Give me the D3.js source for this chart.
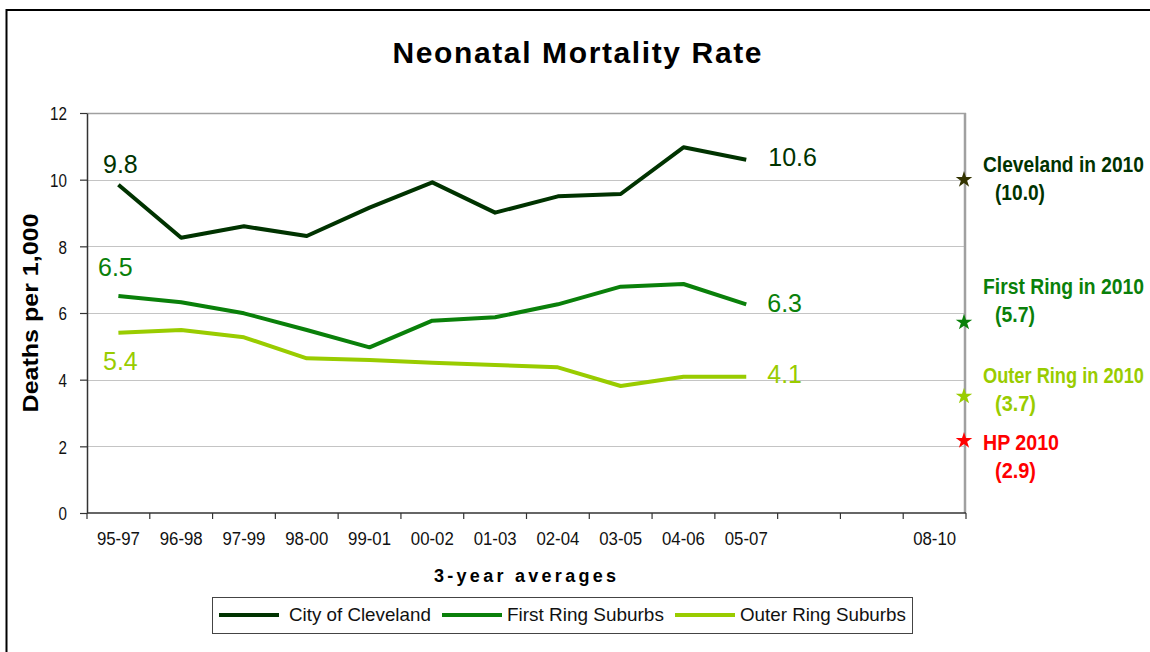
<!DOCTYPE html>
<html>
<head>
<meta charset="utf-8">
<script src="https://cdnjs.cloudflare.com/ajax/libs/d3/7.8.5/d3.min.js"></script>
<style>
  body { margin: 0; background: #fff; }
  svg { display: block; font-family: "Liberation Sans", Arial, sans-serif; }
</style>
</head>
<body>
<svg id="chart" width="1150" height="652"></svg>
<script>
"use strict";

// chart data
var categories = ["95-97", "96-98", "97-99", "98-00", "99-01", "00-02", "01-03",
                  "02-04", "03-05", "04-06", "05-07", "06-08", "07-09", "08-10"];
var tickLabels = ["95-97", "96-98", "97-99", "98-00", "99-01", "00-02", "01-03",
                  "02-04", "03-05", "04-06", "05-07", "", "", "08-10"];
var yTicks = [0, 2, 4, 6, 8, 10, 12];

var cleveland = [9.85, 8.26, 8.6, 8.31, 9.16, 9.92, 9.01, 9.5, 9.57, 10.97, 10.6];
var firstRing = [6.51, 6.32, 5.99, 5.49, 4.97, 5.77, 5.87, 6.26, 6.79, 6.87, 6.26];
var outerRing = [5.41, 5.49, 5.27, 4.64, 4.59, 4.51, 4.44, 4.37, 3.81, 4.09, 4.09];

var seriesNames = ["City of Cleveland", "First Ring Suburbs", "Outer Ring Suburbs"];
var startLabels = ["9.8", "6.5", "5.4"];
var endLabels = ["10.6", "6.3", "4.1"];

var targetNames = ["Cleveland in 2010", "First Ring in 2010", "Outer Ring in 2010", "HP 2010"];
var targetTexts = ["(10.0)", "(5.7)", "(3.7)", "(2.9)"];
var targetValues = [10.0, 5.72, 3.5, 2.17];

// styles / layout
var lineColors = ["#003300", "#0a800a", "#99cc00"];
var starColors = ["#333300", "#0a800a", "#99cc00", "#ff0000"];
var targetColors = ["#003300", "#0a800a", "#99cc00", "#ff0000"];
var startOffsets = [[2, -12], [-3, -20], [2, 37]];   // dx from first point, dy baseline
var endOffsets = [[22, 6], [21, 8], [21, 6]];
var targetNameY = [172, 294, 383, 450];
var targetNameW = [161, 161, 161, 76];
var targetTextW = [50, 40, 41, 41];

var svg = d3.select("#chart");
var margin = {left: 87, top: 113};
var width = 879, height = 400;

// squeeze a text horizontally to a given width (scaled around its anchor)
function squish(sel, w, rot) {
    sel.each(function() {
        var t = d3.select(this);
        var k = w / this.getComputedTextLength();
        var tx = +t.attr("x") || 0, ty = +t.attr("y") || 0;
        t.attr("x", 0).attr("y", 0)
            .attr("transform", "translate(" + tx + "," + ty + ")" + (rot ? " rotate(" + rot + ")" : "") +
                " scale(" + k + ",1)");
    });
}
function spread(sel, w) {
    sel.attr("textLength", w).attr("lengthAdjust", "spacing");
}

// outer frame (top and left only)
svg.append("line").attr("x1", 6).attr("x2", 1150).attr("y1", 10).attr("y2", 10)
    .attr("stroke", "#000").attr("stroke-width", 2);
svg.append("line").attr("x1", 6.5).attr("x2", 6.5).attr("y1", 9).attr("y2", 652)
    .attr("stroke", "#000").attr("stroke-width", 2);

// title
svg.append("text")
    .attr("x", 577).attr("y", 63)
    .attr("text-anchor", "middle")
    .attr("font-size", 30).attr("font-weight", "bold")
    .text("Neonatal Mortality Rate")
    .call(spread, 369);

var g = svg.append("g").attr("transform", "translate(" + margin.left + "," + margin.top + ")");

var x = d3.scaleBand().domain(categories).range([0, width]);
var y = d3.scaleLinear().domain([0, 12]).range([height, 0]);

// gridlines
g.selectAll(".grid").data(yTicks.filter(function(d) { return d > 0 && d < 12; }))
    .enter().append("line")
    .attr("x1", 0).attr("x2", width)
    .attr("y1", function(d) { return Math.round(y(d)) + 0.5; })
    .attr("y2", function(d) { return Math.round(y(d)) + 0.5; })
    .attr("stroke", "#c4c4c4").attr("stroke-width", 1);

// top and right border of plot area
g.append("line").attr("x1", 0).attr("x2", width).attr("y1", 0.5).attr("y2", 0.5)
    .attr("stroke", "#a0a0a0").attr("stroke-width", 1.5);
g.append("line").attr("x1", width - 1).attr("x2", width - 1).attr("y1", 0).attr("y2", height)
    .attr("stroke", "#a0a0a0").attr("stroke-width", 2.5);

// y axis
var yAxis = g.append("g")
    .call(d3.axisLeft(y).tickValues(yTicks).tickSize(7).tickPadding(13).tickSizeOuter(0));
yAxis.attr("font-size", 19).attr("font-family", null);
yAxis.select(".domain").attr("stroke", "#333").attr("stroke-width", 1.5);
yAxis.selectAll(".tick line").attr("stroke", "#333").attr("stroke-width", 1.2);
yAxis.selectAll("text").style("font-size", "19px").attr("fill", "#111")
    .attr("dy", "0.36em")
    .each(function() {
        d3.select(this).call(squish, this.getComputedTextLength() * 0.8);
    });

// x axis: ticks at category boundaries
var xAxisG = g.append("g").attr("transform", "translate(0," + height + ")");
xAxisG.append("line").attr("x1", 0).attr("x2", width).attr("y1", 0).attr("y2", 0)
    .attr("stroke", "#333").attr("stroke-width", 1.5);
var bounds = categories.map(function(c) { return x(c); }).concat([width]);
xAxisG.selectAll(".xt").data(bounds).enter().append("line")
    .attr("x1", function(d) { return d; }).attr("x2", function(d) { return d; })
    .attr("y1", 0).attr("y2", 6)
    .attr("stroke", "#333").attr("stroke-width", 1.2);
xAxisG.selectAll(".xl").data(categories).enter().append("text")
    .attr("x", function(d) { return x(d) + x.bandwidth() / 2; })
    .attr("y", 32)
    .attr("text-anchor", "middle")
    .style("font-size", "19px").attr("fill", "#111")
    .text(function(d, i) { return tickLabels[i]; })
    .each(function(d, i) { if (tickLabels[i]) d3.select(this).call(squish, 43); });

// axis titles
svg.append("text")
    .attr("x", 38).attr("y", 313)
    .attr("text-anchor", "middle")
    .attr("font-size", 22).attr("font-weight", "bold")
    .text("Deaths per 1,000")
    .call(squish, 199, -90);

svg.append("text")
    .attr("x", 525).attr("y", 582)
    .attr("text-anchor", "middle")
    .attr("font-size", 18).attr("font-weight", "bold")
    .text("3-year averages")
    .call(spread, 182);

// lines
var line = d3.line()
    .x(function(d, i) { return x(categories[i]) + x.bandwidth() / 2; })
    .y(function(d) { return y(d); });

var allSeries = [cleveland, firstRing, outerRing];
g.selectAll(".series").data(allSeries).enter().append("path")
    .attr("d", line)
    .attr("fill", "none")
    .attr("stroke", function(d, i) { return lineColors[i]; })
    .attr("stroke-width", 4)
    .attr("stroke-linejoin", "round");

// start and end value labels
allSeries.forEach(function(s, i) {
    var x0 = x(categories[0]) + x.bandwidth() / 2;
    var last = s.length - 1;
    var x1 = x(categories[last]) + x.bandwidth() / 2;
    g.append("text")
        .attr("x", x0 + startOffsets[i][0]).attr("y", y(s[0]) + startOffsets[i][1])
        .attr("text-anchor", "middle")
        .attr("font-size", 25).attr("fill", lineColors[i])
        .text(startLabels[i]);
    g.append("text")
        .attr("x", x1 + endOffsets[i][0]).attr("y", y(s[last]) + endOffsets[i][1])
        .attr("font-size", 25).attr("fill", lineColors[i])
        .text(endLabels[i]);
});

// 2010 target stars on the right edge
var star = d3.symbol().type(d3.symbolStar).size(85);
g.selectAll(".star").data(targetValues).enter().append("path")
    .attr("d", star)
    .attr("transform", function(d) { return "translate(" + (width - 2) + "," + y(d) + ")"; })
    .attr("fill", function(d, i) { return starColors[i]; });

targetNames.forEach(function(name, i) {
    svg.append("text")
        .attr("x", 983).attr("y", targetNameY[i])
        .attr("font-size", 22).attr("font-weight", "bold")
        .attr("fill", targetColors[i])
        .text(name)
        .call(squish, targetNameW[i]);
    svg.append("text")
        .attr("x", 995).attr("y", targetNameY[i] + 28)
        .attr("font-size", 22).attr("font-weight", "bold")
        .attr("fill", targetColors[i])
        .text(targetTexts[i])
        .call(squish, targetTextW[i]);
});

// legend
var legend = svg.append("g");
legend.append("rect")
    .attr("x", 212.5).attr("y", 597.5).attr("width", 700).attr("height", 36)
    .attr("fill", "#fff").attr("stroke", "#444").attr("stroke-width", 1);
var legX = [219, 442, 675];
var legW = [142, 157, 166];
seriesNames.forEach(function(name, i) {
    legend.append("line")
        .attr("x1", legX[i]).attr("x2", legX[i] + 60)
        .attr("y1", 615).attr("y2", 615)
        .attr("stroke", lineColors[i]).attr("stroke-width", 4);
    legend.append("text")
        .attr("x", legX[i] + (i === 0 ? 70 : 65)).attr("y", 621)
        .attr("font-size", 18).attr("fill", "#111")
        .text(name)
        .call(squish, legW[i]);
});
</script>
</body>
</html>
